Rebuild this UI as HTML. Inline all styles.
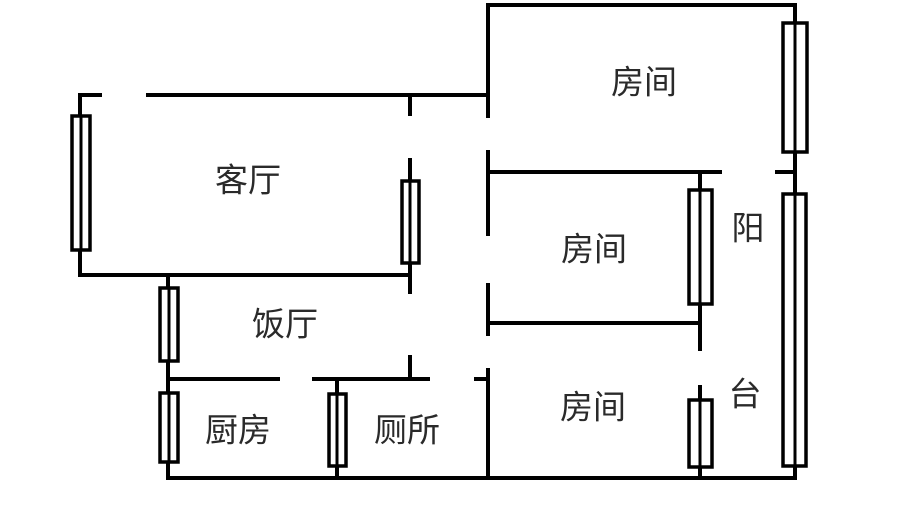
<!DOCTYPE html>
<html><head><meta charset="utf-8"><style>
html,body{margin:0;padding:0;background:#fff;}
svg{display:block;}
text{font-family:"Liberation Sans","Noto Sans CJK SC",sans-serif;font-size:33px;fill:#2a2a2a;text-anchor:middle;dominant-baseline:central;}
</style></head><body>
<svg width="908" height="511" viewBox="0 0 908 511" xmlns="http://www.w3.org/2000/svg">
<g stroke="#000" stroke-width="4" fill="none" stroke-linecap="square">
<!-- top walls -->
<line x1="80" y1="95" x2="100" y2="95"/>
<line x1="148" y1="95" x2="488" y2="95"/>
<line x1="488" y1="5" x2="795" y2="5"/>
<!-- left wall -->
<line x1="80" y1="95" x2="80" y2="275"/>
<line x1="80" y1="275" x2="410" y2="275"/>
<!-- x=410 -->
<line x1="410" y1="95" x2="410" y2="114"/>
<line x1="410" y1="160" x2="410" y2="292"/>
<line x1="410" y1="357" x2="410" y2="379"/>
<!-- dining left -->
<line x1="168" y1="275" x2="168" y2="478"/>
<line x1="168" y1="379" x2="278" y2="379"/>
<line x1="314" y1="379" x2="428" y2="379"/>
<line x1="337" y1="379" x2="337" y2="478"/>
<line x1="168" y1="478" x2="795" y2="478"/>
<!-- x=488 -->
<line x1="488" y1="5" x2="488" y2="116"/>
<line x1="488" y1="152" x2="488" y2="234"/>
<line x1="488" y1="285" x2="488" y2="334"/>
<line x1="488" y1="370" x2="488" y2="478"/>
<line x1="476" y1="379" x2="488" y2="379"/>
<!-- rooms right -->
<line x1="488" y1="172" x2="720" y2="172"/>
<line x1="488" y1="323" x2="700" y2="323"/>
<line x1="700" y1="172" x2="700" y2="349"/>
<line x1="700" y1="387" x2="700" y2="478"/>
<line x1="795" y1="5" x2="795" y2="478"/>
<line x1="777" y1="172" x2="795" y2="172"/>
</g>
<g stroke="#000" stroke-width="3.5" fill="#fff">
<rect x="72" y="116" width="18" height="134"/>
<rect x="402" y="181" width="17" height="82"/>
<rect x="160" y="288" width="18" height="73"/>
<rect x="160" y="393" width="18" height="69"/>
<rect x="329" y="394" width="17" height="72"/>
<rect x="783" y="23" width="24" height="129"/>
<rect x="783" y="194" width="23" height="272"/>
<rect x="689" y="190" width="23" height="114"/>
<rect x="689" y="400" width="23" height="67"/>
</g>
<g stroke="#000" stroke-width="3">
<line x1="81" y1="116" x2="81" y2="250"/>
<line x1="410" y1="181" x2="410" y2="263"/>
<line x1="169" y1="288" x2="169" y2="361"/>
<line x1="169" y1="393" x2="169" y2="462"/>
<line x1="337" y1="394" x2="337" y2="466"/>
<line x1="795" y1="23" x2="795" y2="152"/>
<line x1="795" y1="194" x2="795" y2="466"/>
<line x1="700" y1="190" x2="700" y2="304"/>
<line x1="700" y1="400" x2="700" y2="467"/>
</g>
<text x="248" y="180">客厅</text>
<text x="285" y="324">饭厅</text>
<text x="238" y="430">厨房</text>
<text x="407" y="430">厕所</text>
<text x="644" y="82">房间</text>
<text x="594" y="249">房间</text>
<text x="593" y="407">房间</text>
<text x="748" y="228">阳</text>
<text x="745" y="394">台</text>
</svg>
</body></html>
